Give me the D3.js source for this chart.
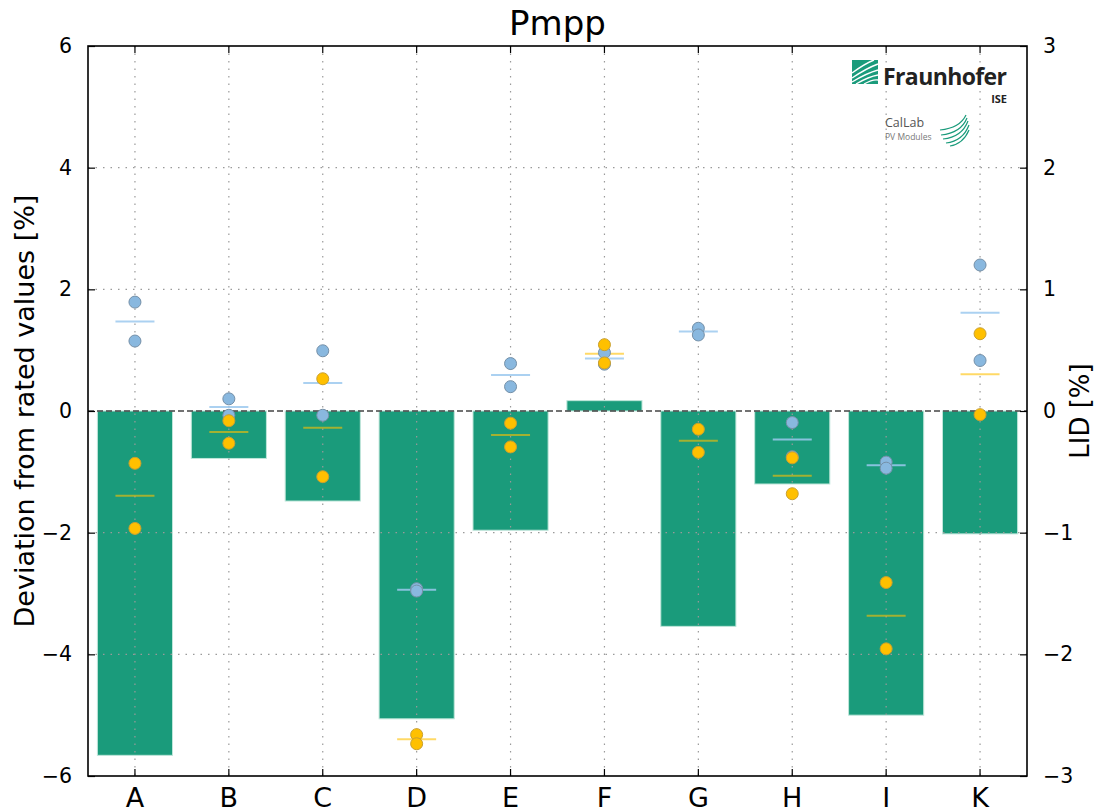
<!DOCTYPE html>
<html>
<head>
<meta charset="utf-8">
<script src="https://cdn.jsdelivr.net/npm/d3@7"></script>
<style>
  body { margin: 0; background: #fff; }
  svg { font-family: "DejaVu Sans", sans-serif; }
</style>
</head>
<body>
<svg id="chart" width="1096" height="812"></svg>
<script>
// categories (modules)
var categories = ["A", "B", "C", "D", "E", "F", "G", "H", "I", "K"];
// LID per module, right axis [%]
var lidValues = [-2.83, -0.39, -0.74, -2.53, -0.98, 0.085, -1.77, -0.60, -2.50, -1.01];
// deviation from rated values, left axis [%]
var blueA = [1.79, 0.20, 0.99, -2.92, 0.78, 0.96, 1.36, -0.19, -0.84, 2.40];
var blueB = [1.15, -0.07, -0.07, -2.96, 0.40, 0.77, 1.25, -0.75, -0.94, 0.83];
var yellowA = [-0.86, -0.16, 0.53, -5.32, -0.20, 1.09, -0.30, -0.77, -2.82, 1.27];
var yellowB = [-1.93, -0.53, -1.08, -5.47, -0.59, 0.79, -0.68, -1.36, -3.91, -0.06];
var leftTicks = [-6, -4, -2, 0, 2, 4, 6];
var rightTicks = [-3, -2, -1, 0, 1, 2, 3];

var margin = {left: 88, right: 69, top: 46, bottom: 36};
var W = 1096, H = 812;
var svg = d3.select("#chart");

var x = d3.scaleBand().domain(categories)
    .range([margin.left, W - margin.right]).paddingInner(0.2).paddingOuter(0.1);
var xc = function (c) { return x(c) + x.bandwidth() / 2; };
var yL = d3.scaleLinear().domain([-6, 6]).range([H - margin.bottom, margin.top]);
var yR = d3.scaleLinear().domain([-3, 3]).range([H - margin.bottom, margin.top]);

var x0 = margin.left, x1 = W - margin.right, y0 = margin.top, y1 = H - margin.bottom;

// bars (LID)
svg.append("g").selectAll("rect")
    .data(categories)
    .enter()
    .append("rect")
    .attr("x", function (c) { return x(c); })
    .attr("width", x.bandwidth())
    .attr("y", function (c, i) { return Math.min(yR(lidValues[i]), yR(0)); })
    .attr("height", function (c, i) { return Math.abs(yR(lidValues[i]) - yR(0)); })
    .attr("fill", "#1a9b7b")
    .attr("stroke", "#bfe6da")
    .attr("stroke-width", 1);

// grid
var grid = svg.append("g")
    .attr("stroke", "#9a9a9a")
    .attr("stroke-width", 1.2)
    .attr("stroke-dasharray", "1.5,6");
grid.selectAll(".gy")
    .data(leftTicks.filter(function (t) { return t != 0 && t != 6 && t != -6; }))
    .enter()
    .append("line")
    .attr("x1", x0).attr("x2", x1)
    .attr("y1", function (d) { return yL(d); })
    .attr("y2", function (d) { return yL(d); });
grid.selectAll(".gx")
    .data(categories)
    .enter()
    .append("line")
    .attr("x1", xc).attr("x2", xc)
    .attr("y1", y0).attr("y2", y1);

// zero line
svg.append("line")
    .attr("x1", x0).attr("x2", x1)
    .attr("y1", yL(0)).attr("y2", yL(0))
    .attr("stroke", "#444")
    .attr("stroke-width", 1.5)
    .attr("stroke-dasharray", "6,3");

// mean lines
var meanGroup = svg.append("g");
categories.forEach(function (c, i) {
    var bm = d3.mean([blueA[i], blueB[i]]);
    var ym = d3.mean([yellowA[i], yellowB[i]]);
    meanGroup.append("line")
        .attr("x1", xc(c) - 19.5).attr("x2", xc(c) + 19.5)
        .attr("y1", yL(bm)).attr("y2", yL(bm))
        .attr("stroke", "#9cc9ee").attr("stroke-opacity", 0.85)
        .attr("stroke-width", 2);
    meanGroup.append("line")
        .attr("x1", xc(c) - 19.5).attr("x2", xc(c) + 19.5)
        .attr("y1", yL(ym)).attr("y2", yL(ym))
        .attr("stroke", "#ffc000").attr("stroke-opacity", 0.6)
        .attr("stroke-width", 2);
});

// dots
function drawDots(vals, fill, stroke) {
    svg.append("g").selectAll("circle")
        .data(vals)
        .enter()
        .append("circle")
        .attr("cx", function (d, i) { return xc(categories[i]); })
        .attr("cy", function (d) { return yL(d); })
        .attr("r", 6)
        .attr("fill", fill)
        .attr("stroke", stroke)
        .attr("stroke-width", 1);
}
drawDots(blueA, "#89b8df", "#7590a8");
drawDots(blueB, "#89b8df", "#7590a8");
drawDots(yellowA, "#ffc000", "#c9a030");
drawDots(yellowB, "#ffc000", "#c9a030");

// frame
svg.append("rect")
    .attr("x", x0).attr("y", y0)
    .attr("width", x1 - x0).attr("height", y1 - y0)
    .attr("fill", "none").attr("stroke", "#000").attr("stroke-width", 1.6);

// axes with inward ticks
var tickLen = 7;
var leftAxis = svg.append("g").attr("transform", "translate(" + x0 + ",0)")
    .call(d3.axisLeft(yL).tickValues(leftTicks).tickSize(-tickLen).tickPadding(tickLen + 9)
        .tickFormat(function (d) { return d < 0 ? "\u2212" + (-d) : d; }));
var rightAxis = svg.append("g").attr("transform", "translate(" + x1 + ",0)")
    .call(d3.axisRight(yR).tickValues(rightTicks).tickSize(-tickLen).tickPadding(tickLen + 9)
        .tickFormat(function (d) { return d < 0 ? "\u2212" + (-d) : d; }));
var bottomAxis = svg.append("g").attr("transform", "translate(0," + y1 + ")")
    .call(d3.axisBottom(x).tickSize(-tickLen).tickPadding(tickLen + 5));
var topAxis = svg.append("g").attr("transform", "translate(0," + y0 + ")")
    .call(d3.axisTop(x).tickSize(-tickLen).tickFormat(""));

[leftAxis, rightAxis, bottomAxis, topAxis].forEach(function (a) {
    a.select(".domain").remove();
    a.selectAll(".tick line").attr("stroke", "#000").attr("stroke-width", 1.2);
    a.selectAll("text").attr("fill", "#000").style("font-family", "DejaVu Sans");
});
leftAxis.selectAll("text").style("font-size", "20.5px");
rightAxis.selectAll("text").style("font-size", "20.5px");
bottomAxis.selectAll("text").style("font-size", "27px");

// titles
svg.append("text")
    .attr("x", (x0 + x1) / 2).attr("y", 35)
    .attr("text-anchor", "middle")
    .style("font-size", "34px")
    .text("Pmpp");

svg.append("text")
    .attr("transform", "translate(34," + ((y0 + y1) / 2) + ") rotate(-90)")
    .attr("text-anchor", "middle")
    .style("font-size", "27px")
    .text("Deviation from rated values [%]");

svg.append("text")
    .attr("transform", "translate(1089," + ((y0 + y1) / 2) + ") rotate(-90)")
    .attr("text-anchor", "middle")
    .style("font-size", "26px")
    .text("LID [%]");

// logo
var logo = svg.append("g");
logo.append("rect")
    .attr("x", 852).attr("y", 60).attr("width", 26).attr("height", 24)
    .attr("fill", "#1a9b7b");
[[852, 78, 878, 64], [852, 82, 878, 70], [856, 84, 878, 75], [864, 84, 878, 80], [852, 73, 874, 60]]
    .forEach(function (p) {
        logo.append("path")
            .attr("d", "M" + p[0] + "," + p[1] + " Q" + ((p[0] + p[2]) / 2 + 2) + "," + ((p[1] + p[3]) / 2 - 3) + " " + p[2] + "," + p[3])
            .attr("fill", "none").attr("stroke", "#fff").attr("stroke-width", 1.4);
    });
logo.append("text")
    .attr("x", 883).attr("y", 85)
    .style("font-family", "'Open Sans', sans-serif")
    .style("font-weight", "bold")
    .style("font-size", "23px")
    .attr("fill", "#222")
    .attr("textLength", 124)
    .text("Fraunhofer");
logo.append("text")
    .attr("x", 1007).attr("y", 103)
    .attr("text-anchor", "end")
    .style("font-family", "'Open Sans', sans-serif")
    .style("font-weight", "bold")
    .style("font-size", "11px")
    .attr("fill", "#222")
    .text("ISE");
logo.append("text")
    .attr("x", 885).attr("y", 127)
    .style("font-family", "'Open Sans', sans-serif")
    .style("font-size", "12.5px")
    .attr("fill", "#555")
    .text("CalLab");
logo.append("text")
    .attr("x", 885).attr("y", 140)
    .style("font-family", "'Open Sans', sans-serif")
    .style("font-size", "8.5px")
    .attr("fill", "#777")
    .text("PV Modules");
[[940, 130, 966, 115], [941, 135, 967, 118], [943, 139, 968, 121], [946, 143, 969, 125], [950, 146, 969, 130]]
    .forEach(function (p) {
        logo.append("path")
            .attr("d", "M" + p[0] + "," + p[1] + " Q" + (p[2] - 6) + "," + (p[1] - 2) + " " + p[2] + "," + p[3])
            .attr("fill", "none").attr("stroke", "#1a9b7b").attr("stroke-width", 1.2);
    });
</script>
</body>
</html>
